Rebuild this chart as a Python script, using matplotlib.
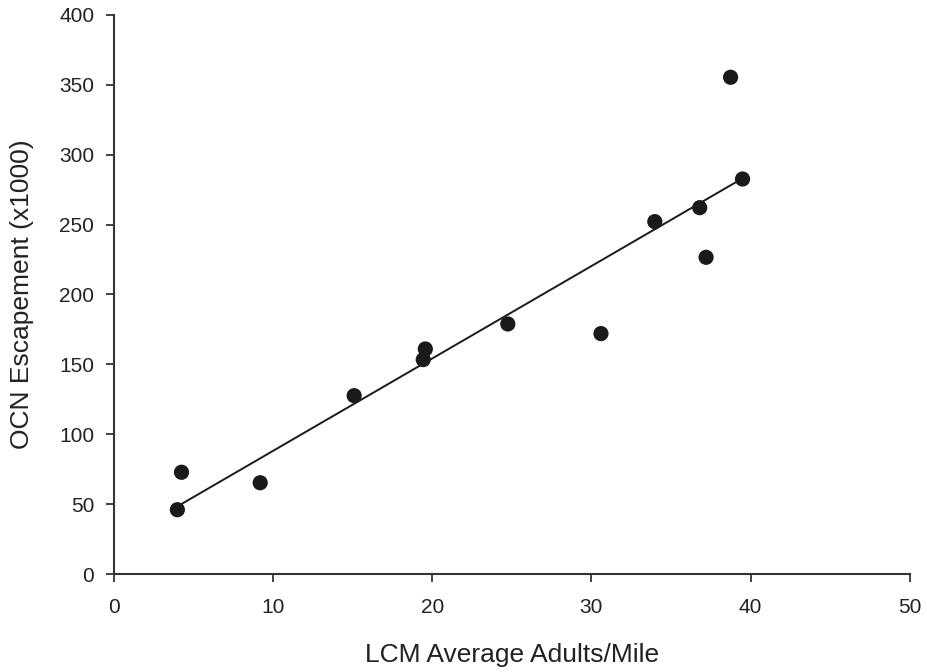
import numpy as np
import matplotlib.pyplot as plt

plt.rcParams['font.family'] = ['Liberation Sans', 'DejaVu Sans']

# LCM average adults per mile vs OCN escapement (thousands)
adults_per_mile = [4.0, 4.26, 9.2, 15.1, 19.44, 19.57, 24.75, 30.6, 33.98, 36.8, 37.2, 38.74, 39.49]
escapement = [46, 72.8, 65.3, 127.6, 153.4, 161, 178.9, 172, 252.1, 262.1, 226.6, 355.4, 282.6]

x_ticks = [0, 10, 20, 30, 40, 50]
y_ticks = [0, 50, 100, 150, 200, 250, 300, 350, 400]

fig = plt.figure(figsize=(9.28, 6.72), dpi=100)
ax = fig.add_axes([0.1225, 0.1458, 0.858, 0.832])

x = np.array(adults_per_mile)
y = np.array(escapement)

# least squares fit across the data range
slope, intercept = np.polyfit(x, y, 1)
xs = np.array([x.min(), x.max()])
ax.plot(xs, slope * xs + intercept, color='#1a1a1a', lw=1.4, zorder=2)

ax.scatter(x, y, s=120, color='#1a1a1a', edgecolors='none', zorder=3)

ax.set_xlim(0, 50)
ax.set_ylim(0, 400)
ax.set_xticks(x_ticks)
ax.set_yticks(y_ticks)

for side in ['top', 'right']:
    ax.spines[side].set_visible(False)
for side in ['left', 'bottom']:
    ax.spines[side].set_color('#333333')
    ax.spines[side].set_linewidth(1.5)

ax.tick_params(axis='both', direction='out', length=6, width=1.3,
               colors='#333333', labelcolor='#222222', labelsize=15)
ax.tick_params(axis='x', pad=11)
ax.tick_params(axis='y', pad=8)

ax.set_xlabel("LCM Average Adults/Mile", fontsize=19, color='#222222', labelpad=19)
ax.set_ylabel("OCN Escapement (x1000)", fontsize=19, color='#222222', labelpad=18)

fig.savefig("out.png", dpi=100)
